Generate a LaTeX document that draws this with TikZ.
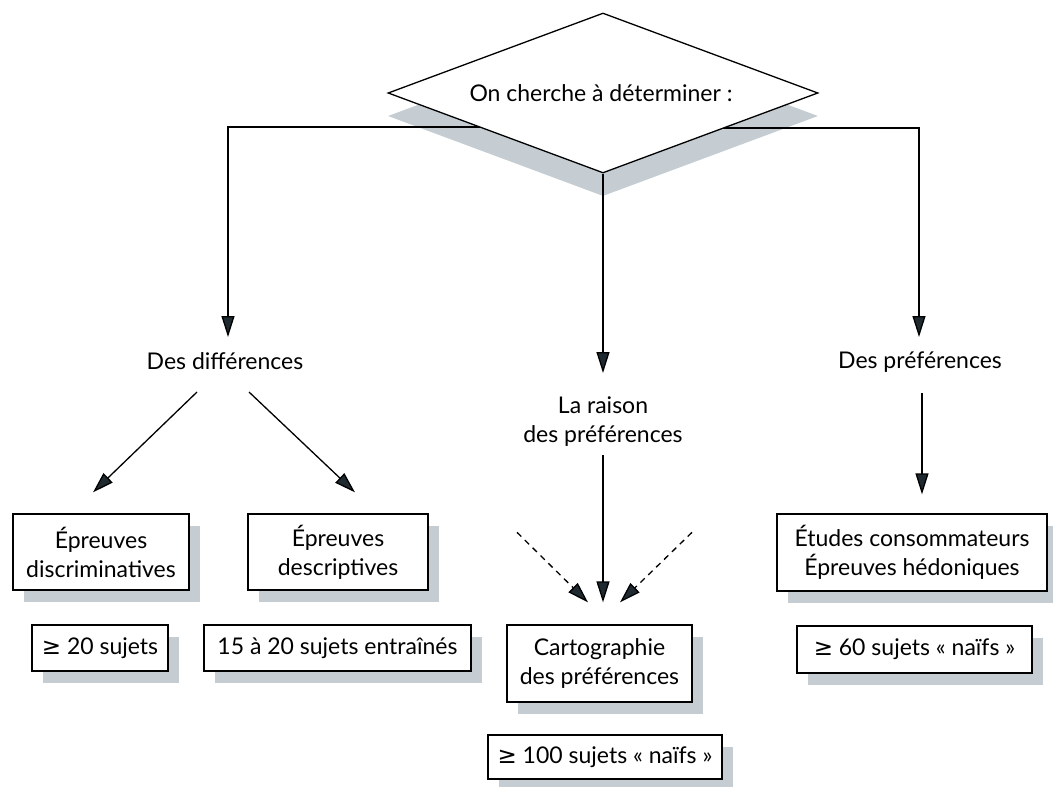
\documentclass[tikz,border=0pt]{standalone}
\usepackage{fontspec}
\setmainfont{Lato}
\newfontfamily\symfont{DejaVu Sans}
\usetikzlibrary{arrows.meta,shapes.geometric,shadows,calc,backgrounds}
\definecolor{shadowc}{RGB}{197,205,211}
\definecolor{tipc}{RGB}{30,42,48}
\begin{document}
\begin{tikzpicture}[x=1pt,y=-1pt,
  every node/.style={font=\fontsize{23}{29}\selectfont},
  line/.style={line width=1.3pt, black},
  arr/.style={line, -{Triangle[length=21pt,width=13pt,fill=tipc]}},
  darr/.style={arr, dash pattern=on 6pt off 5pt},
  box/.style={draw, fill=white, line width=1.3pt, align=center, inner sep=0pt,
    drop shadow={shadow xshift=11pt, shadow yshift=-12pt, fill=shadowc, opacity=1}},
  lbl/.style={align=center, inner sep=2pt},
  dia/.style={diamond, minimum width=430pt, minimum height=160pt, inner sep=0pt}
]
\useasboundingbox (0,0) rectangle (1053,787);

% diamond
\node[dia, draw, fill=white, line width=1.3pt] (d) at (603,93) {};
\node[inner sep=0pt] (q) at (601,93) {On cherche à déterminer :};

% labels
\node[lbl] (diff) at (225,361) {Des différences};
\node[lbl] (pref) at (920,362) {Des préférences};
\node[lbl] (raison) at (603,422) {La raison\\des préférences};

% boxes
\node[box, minimum width=176pt, minimum height=76pt] (disc) at (101,552) {Épreuves\\discriminatives};
\node[box, minimum width=180pt, minimum height=76pt] (desc) at (338,552) {Épreuves\\descriptives};
\node[box, minimum width=136pt, minimum height=46pt] (s20) at (100,648) {{\symfont ≥} 20 sujets};
\node[box, minimum width=267pt, minimum height=46pt] (s1520) at (337.5,648) {15 à 20 sujets entraînés};
\node[box, minimum width=185pt, minimum height=77pt] (carto) at (599.5,663.5) {Cartographie\\des préférences};
\node[box, minimum width=234pt, minimum height=44pt] (s100) at (605,757) {{\symfont ≥} 100 sujets « naïfs »};
\node[box, minimum width=270pt, minimum height=77pt] (etudes) at (912,552.5) {Études consommateurs\\Épreuves hédoniques};
\node[box, minimum width=235pt, minimum height=47pt] (s60) at (914.5,649.5) {{\symfont ≥} 60 sujets « naïfs »};

\begin{pgfonlayer}{background}
  \node[dia, fill=shadowc] (dsh) at (603,116) {};
  \draw[arr] (d.center) ++(0,34) -| ($(diff)+(3,-24)$);
  \draw[arr] (d.center) ++(0,35) -| ($(pref)+(-1,-25)$);
\end{pgfonlayer}

\draw[arr] (d.south) -- ($(raison)+(0,-49)$);
\draw[arr] ($(diff)+(-28,31)$) -- ($(disc.north)+(-8,-21)$);
\draw[arr] ($(diff)+(24,31)$) -- ($(desc.north)+(17,-21)$);
\draw[arr] ($(raison)+(0,33)$) -- ($(raison |- carto.north)+(0,-22)$);
\coordinate (dl) at ($(carto.north)+(-82.5,-92)$);
\coordinate (dr) at ($(carto.north)+(92.5,-92)$);
\draw[darr] (dl) -- ($(carto.north)+(-11.5,-22)$);
\draw[darr] (dr) -- ($(carto.north)+(20.5,-22)$);
\draw[arr] ($(pref)+(2,31)$) -- ($(etudes.north)+(10,-19)$);
\end{tikzpicture}
\end{document}
